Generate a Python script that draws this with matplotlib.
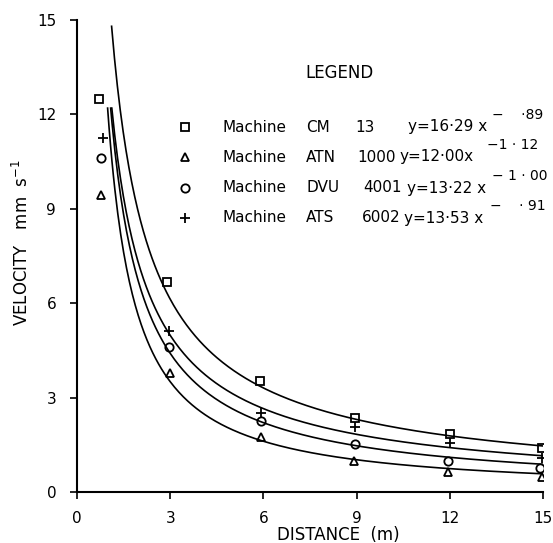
import numpy as np
import matplotlib
matplotlib.use("Agg")
import matplotlib.pyplot as plt

# measured points
x_cm = [0.72, 2.89, 5.88, 8.94, 12.0, 14.96]
y_cm = [12.48, 6.68, 3.54, 2.34, 1.84, 1.39]
x_atn = [0.76, 2.98, 5.93, 8.91, 11.93, 14.96]
y_atn = [9.44, 3.79, 1.74, 0.99, 0.65, 0.47]
x_dvu = [0.76, 2.95, 5.93, 8.94, 11.93, 14.91]
y_dvu = [10.6, 4.60, 2.27, 1.53, 0.99, 0.75]
x_ats = [0.83, 2.95, 5.93, 8.94, 12.0, 14.96]
y_ats = [11.24, 5.12, 2.50, 2.08, 1.55, 1.07]

# fitted curves y = a * x^-b (from legend)
machines = ["CM", "ATN", "DVU", "ATS"]
codes = ["13", "1000", "4001", "6002"]
coef_a = [16.29, 12.00, 13.22, 13.53]
coef_b = [0.89, 1.12, 1.00, 0.91]
eq_text = ["y=16\u00b729 x", "y=12\u00b700x", "y=13\u00b722 x", "y=13\u00b753 x"]
exp_text = ["\u2212    \u00b789", "\u22121 \u00b7 12", "\u2212 1 \u00b7 00", "\u2212    \u00b7 91"]
curve_top = [14.8, 12.2, 12.2, 12.2]

xticks = [0, 3, 6, 9, 12, 15]
yticks = [0, 3, 6, 9, 12, 15]

W, H = 553, 543
plt.rcParams['font.family'] = ['DejaVu Sans']

fig = plt.figure(figsize=(W / 100, H / 100), dpi=100)
ax = fig.add_axes([77 / W, 1 - 492 / H, 466 / W, 472 / H])


def fx(px):
    return px / W


def fy(py):
    return 1 - py / H


# curves
for a, b, top in zip(coef_a, coef_b, curve_top):
    x0 = (a / top) ** (1 / b)
    xx = np.linspace(x0, 15, 300)
    ax.plot(xx, a * xx ** (-b), color='black', lw=1.2, zorder=2)

mk = dict(color='none', markeredgecolor='black', markeredgewidth=1.3,
          linestyle='none', zorder=3)
ax.plot(x_cm, y_cm, marker='s', markersize=6, **mk)
ax.plot(x_atn, y_atn, marker='^', markersize=6, **mk)
ax.plot(x_dvu, y_dvu, marker='o', markersize=6, **mk)
ax.plot(x_ats, y_ats, marker='+', markersize=7, **mk)

ax.set_xlim(0, 15)
ax.set_ylim(0, 15)
ax.set_xticks(xticks)
ax.set_yticks(yticks)
ax.set_xticklabels([str(t) for t in xticks], fontsize=11)
ax.set_yticklabels([str(t) for t in yticks], fontsize=11)
ax.tick_params(axis='x', length=5, width=1.2, pad=9)
ax.tick_params(axis='y', length=5, width=1.2, pad=10)
for s in ['top', 'right']:
    ax.spines[s].set_visible(False)
for s in ['left', 'bottom']:
    ax.spines[s].set_linewidth(1.5)

fig.text(fx(338), fy(535), "DISTANCE  (m)", fontsize=12, ha='center', va='center')
fig.text(fx(22), fy(243), "VELOCITY   mm  s$^{-1}$", fontsize=12,
         rotation=90, ha='center', va='center')

# legend block
fig.text(fx(305), fy(73), "LEGEND", fontsize=12, ha='left', va='center')
row_y = [127, 157, 188, 218]
leg_markers = ['s', '^', 'o', '+']
code_x = [355, 357, 363, 362]
eq_x = [408, 399, 407, 404]
exp_x = [492, 487, 492, 490]
for i in range(4):
    yy = row_y[i]
    fig.lines.append(plt.Line2D([fx(185)], [fy(yy)], transform=fig.transFigure,
                                marker=leg_markers[i], markersize=6 if i < 3 else 7,
                                color='none', markeredgecolor='black',
                                markeredgewidth=1.3, linestyle='none'))
    fig.text(fx(223), fy(yy), "Machine", fontsize=11, ha='left', va='center')
    fig.text(fx(306), fy(yy), machines[i], fontsize=11, ha='left', va='center')
    fig.text(fx(code_x[i]), fy(yy), codes[i], fontsize=11, ha='left', va='center')
    fig.text(fx(eq_x[i]), fy(yy), eq_text[i], fontsize=11, ha='left', va='center')
    fig.text(fx(exp_x[i]), fy(yy - 12), exp_text[i], fontsize=10, ha='left', va='center')

fig.savefig("out.png", dpi=100)
